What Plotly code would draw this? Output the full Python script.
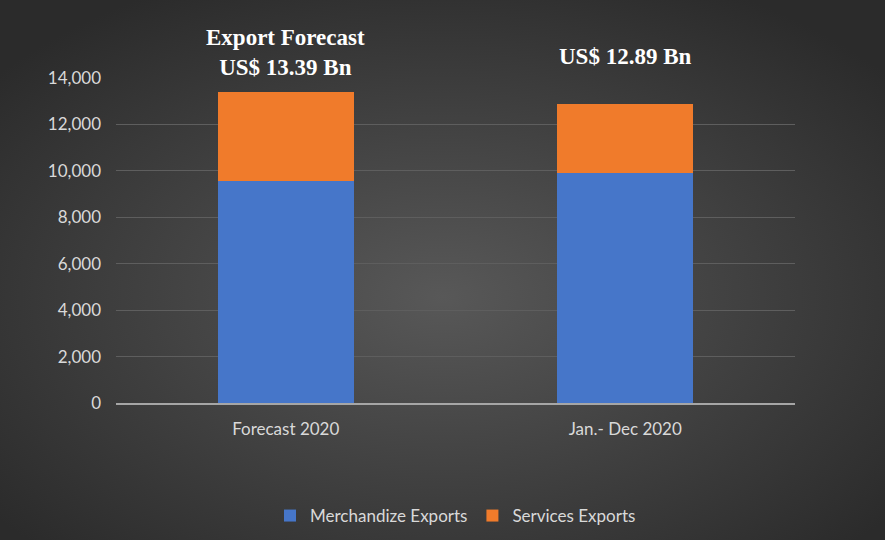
import base64
import plotly.graph_objects as go

# Export figures, US$ million
categories = ["Forecast 2020", "Jan.- Dec 2020"]
merchandise = [9560, 9900]
services = [3830, 2990]
headline_labels = ["<b>Export Forecast<br>US$ 13.39 Bn</b>", "<b>US$ 12.89 Bn</b>"]
headline_y = [1.077, 1.066]  # paper coords, labels sit in text boxes above the bars

# radial gradient background as an svg image
svg = (
    '<svg xmlns="http://www.w3.org/2000/svg" width="885" height="540">'
    '<defs><radialGradient id="g" cx="50%" cy="55%" r="65%">'
    '<stop offset="0%" stop-color="#585858"/>'
    '<stop offset="100%" stop-color="#2b2b2b"/>'
    '</radialGradient></defs>'
    '<rect width="885" height="540" fill="url(#g)"/></svg>'
)
bg_src = "data:image/svg+xml;base64," + base64.b64encode(svg.encode()).decode()

fig = go.Figure()
fig.add_trace(go.Bar(
    x=categories, y=merchandise, name="Merchandize Exports",
    marker=dict(color="#4676c9", line=dict(width=0)),
))
fig.add_trace(go.Bar(
    x=categories, y=services, name="Services Exports",
    marker=dict(color="#f07b2b", line=dict(width=0)),
))

for cat, lab, yy in zip(categories, headline_labels, headline_y):
    fig.add_annotation(
        x=cat, y=yy, yref="paper", text=lab, showarrow=False, yanchor="middle",
        font=dict(family="Liberation Serif", size=23, color="#ffffff"),
    )

plot_w, plot_h = 885 - 116 - 90, 540 - 78 - 137
fig.add_layout_image(
    source=bg_src, xref="paper", yref="paper",
    x=-116 / plot_w, y=1 + 78 / plot_h,
    sizex=885 / plot_w, sizey=540 / plot_h,
    sizing="stretch", layer="below", xanchor="left", yanchor="top",
)

fig.update_layout(
    width=885, height=540,
    barmode="stack", bargap=0.6,
    paper_bgcolor="#3c3c3c", plot_bgcolor="rgba(0,0,0,0)",
    margin=dict(l=116, r=90, t=78, b=137, autoexpand=False),
    font=dict(family="Lato", size=17, color="#d9d9d9"),
    showlegend=True,
    legend=dict(orientation="h", x=0.5, xanchor="center",
                yref="container", y=24 / 540, yanchor="middle",
                bgcolor="rgba(0,0,0,0)",
                font=dict(size=17, color="#d9d9d9"), traceorder="normal",
                itemwidth=30),
)
fig.update_yaxes(
    range=[0, 14000], dtick=2000, tickformat=",d",
    showgrid=True, gridcolor="#5e5e5e", gridwidth=1,
    zeroline=False, showline=False, ticks="", ticklabelstandoff=14,
)
fig.update_xaxes(
    showline=True, linecolor="#a6a6a6", linewidth=2,
    showgrid=False, ticks="", ticklabelstandoff=10,
)

fig.write_html("out.html", config={"displayModeBar": False},
               post_script="document.body.style.margin='0';")
